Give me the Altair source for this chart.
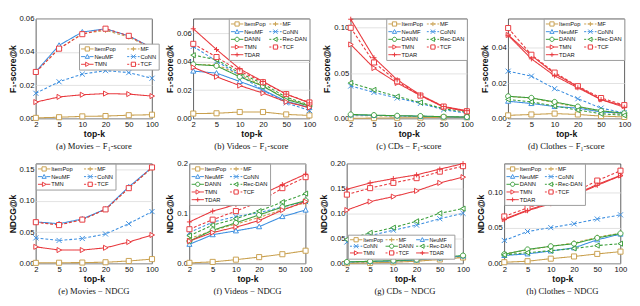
import math
import altair as alt
import pandas as pd

K = [2, 5, 10, 20, 50, 100]
MODELS = ["ItemPop", "MF", "NeuMF", "CoNN", "DANN", "Rec-DAN", "TMN", "TCF", "TDAR"]

COLORS = {
    "ItemPop": "#C9A04E", "MF": "#C9A04E",
    "NeuMF": "#3B8EE0", "CoNN": "#3B8EE0",
    "DANN": "#3A9E3A", "Rec-DAN": "#3A9E3A",
    "TMN": "#E8383D", "TCF": "#E8383D", "TDAR": "#E8383D",
}
DASHED = {"MF", "CoNN", "Rec-DAN", "TCF"}
MARKER = {"ItemPop": "square", "MF": "plus", "NeuMF": "tri_up", "CoNN": "x",
          "DANN": "circle", "Rec-DAN": "tri_left", "TMN": "tri_right",
          "TCF": "square", "TDAR": "plus"}

# ---------------- data ----------------
movies_f1 = {
    "ItemPop": [0.0004, 0.0008, 0.0013, 0.0015, 0.0020, 0.0023],
    "MF": [0.0280, 0.0420, 0.0510, 0.0530, 0.0490, 0.0420],
    "NeuMF": [0.0282, 0.0440, 0.0520, 0.0539, 0.0497, 0.0425],
    "CoNN": [0.0152, 0.0221, 0.0267, 0.0288, 0.0276, 0.0242],
    "TMN": [0.0099, 0.0130, 0.0143, 0.0150, 0.0147, 0.0135],
    "TCF": [0.0280, 0.0420, 0.0507, 0.0540, 0.0497, 0.0423],
}
videos_f1 = {
    "ItemPop": [0.0035, 0.0037, 0.0046, 0.0046, 0.0029, 0.0022],
    "MF": [0.0380, 0.0378, 0.0310, 0.0230, 0.0140, 0.0090],
    "NeuMF": [0.0334, 0.0320, 0.0261, 0.0201, 0.0122, 0.0077],
    "CoNN": [0.0508, 0.0404, 0.0305, 0.0199, 0.0110, 0.0057],
    "DANN": [0.0382, 0.0371, 0.0294, 0.0228, 0.0135, 0.0088],
    "Rec-DAN": [0.0446, 0.0415, 0.0320, 0.0245, 0.0150, 0.0095],
    "TMN": [0.0360, 0.0294, 0.0232, 0.0179, 0.0117, 0.0077],
    "TCF": [0.0526, 0.0433, 0.0334, 0.0256, 0.0172, 0.0113],
    "TDAR": [0.0632, 0.0486, 0.0349, 0.0261, 0.0172, 0.0110],
}
cds_f1 = {
    "ItemPop": [0.0003, 0.0005, 0.0008, 0.0010, 0.0012, 0.0013],
    "MF": [0.0030, 0.0030, 0.0025, 0.0022, 0.0018, 0.0015],
    "NeuMF": [0.0040, 0.0035, 0.0030, 0.0025, 0.0020, 0.0015],
    "CoNN": [0.0358, 0.0288, 0.0226, 0.0167, 0.0097, 0.0059],
    "DANN": [0.0045, 0.0038, 0.0031, 0.0028, 0.0020, 0.0017],
    "Rec-DAN": [0.0392, 0.0316, 0.0243, 0.0177, 0.0108, 0.0070],
    "TMN": [0.0816, 0.0556, 0.0392, 0.0253, 0.0125, 0.0080],
    "TCF": [0.1000, 0.0618, 0.0410, 0.0253, 0.0132, 0.0080],
    "TDAR": [0.1094, 0.0670, 0.0427, 0.0260, 0.0132, 0.0087],
}
clothes_f1 = {
    "ItemPop": [0.0018, 0.0023, 0.0028, 0.0023, 0.0014, 0.0009],
    "MF": [0.0125, 0.0115, 0.0090, 0.0065, 0.0040, 0.0022],
    "NeuMF": [0.0098, 0.0085, 0.0068, 0.0059, 0.0037, 0.0030],
    "CoNN": [0.0268, 0.0240, 0.0169, 0.0112, 0.0059, 0.0032],
    "DANN": [0.0126, 0.0117, 0.0094, 0.0068, 0.0044, 0.0030],
    "Rec-DAN": [0.0108, 0.0094, 0.0071, 0.0048, 0.0027, 0.0018],
    "TMN": [0.0473, 0.0357, 0.0254, 0.0180, 0.0108, 0.0071],
    "TCF": [0.0512, 0.0361, 0.0260, 0.0183, 0.0116, 0.0076],
    "TDAR": [0.0471, 0.0338, 0.0242, 0.0174, 0.0107, 0.0064],
}
movies_ndcg = {
    "ItemPop": [0.0010, 0.0012, 0.0015, 0.0020, 0.0040, 0.0070],
    "MF": [0.0660, 0.0620, 0.0700, 0.0860, 0.1200, 0.1520],
    "NeuMF": [0.0663, 0.0633, 0.0709, 0.0867, 0.1220, 0.1530],
    "CoNN": [0.0408, 0.0367, 0.0398, 0.0470, 0.0633, 0.0827],
    "TMN": [0.0265, 0.0214, 0.0214, 0.0250, 0.0342, 0.0454],
    "TCF": [0.0658, 0.0612, 0.0699, 0.0862, 0.1200, 0.1530],
}
videos_ndcg = {
    "ItemPop": [0.0013, 0.0032, 0.0077, 0.0128, 0.0186, 0.0256],
    "MF": [0.0500, 0.0660, 0.0790, 0.0920, 0.1080, 0.1220],
    "NeuMF": [0.0385, 0.0577, 0.0654, 0.0737, 0.0940, 0.1070],
    "CoNN": [0.0620, 0.0830, 0.0940, 0.1020, 0.1130, 0.1240],
    "DANN": [0.0449, 0.0667, 0.0814, 0.0974, 0.1130, 0.1260],
    "Rec-DAN": [0.0558, 0.0769, 0.0897, 0.1050, 0.1230, 0.1400],
    "TMN": [0.0449, 0.0620, 0.0730, 0.0859, 0.1070, 0.1240],
    "TCF": [0.0686, 0.0878, 0.1050, 0.1230, 0.1510, 0.1730],
    "TDAR": [0.0833, 0.1050, 0.1180, 0.1360, 0.1580, 0.1790],
}
cds_ndcg = {
    "ItemPop": [0.0005, 0.0012, 0.0025, 0.0045, 0.0080, 0.0120],
    "MF": [0.0010, 0.0020, 0.0040, 0.0060, 0.0100, 0.0130],
    "NeuMF": [0.0030, 0.0040, 0.0050, 0.0070, 0.0110, 0.0150],
    "CoNN": [0.0430, 0.0558, 0.0667, 0.0769, 0.0897, 0.1006],
    "DANN": [0.0032, 0.0045, 0.0058, 0.0077, 0.0122, 0.0160],
    "Rec-DAN": [0.0480, 0.0615, 0.0718, 0.0846, 0.1006, 0.1100],
    "TMN": [0.1070, 0.1240, 0.1340, 0.1455, 0.1615, 0.1730],
    "TCF": [0.1380, 0.1510, 0.1615, 0.1710, 0.1840, 0.1950],
    "TDAR": [0.1487, 0.1615, 0.1700, 0.1776, 0.1890, 0.2000],
}
clothes_ndcg = {
    "ItemPop": [0.0018, 0.0032, 0.0068, 0.0099, 0.0135, 0.0167],
    "MF": [0.0135, 0.0190, 0.0243, 0.0288, 0.0370, 0.0428],
    "NeuMF": [0.0113, 0.0135, 0.0176, 0.0220, 0.0333, 0.0414],
    "CoNN": [0.0324, 0.0450, 0.0505, 0.0559, 0.0626, 0.0685],
    "DANN": [0.0130, 0.0198, 0.0243, 0.0279, 0.0360, 0.0423],
    "Rec-DAN": [0.0122, 0.0153, 0.0180, 0.0212, 0.0252, 0.0279],
    "TMN": [0.0626, 0.0752, 0.0856, 0.0964, 0.1113, 0.1239],
    "TCF": [0.0662, 0.0784, 0.0887, 0.1000, 0.1167, 0.1306],
    "TDAR": [0.0617, 0.0743, 0.0842, 0.0955, 0.1100, 0.1234],
}

W, H = 121, 104
F1_TITLE = "F\u2081-score@k"
NDCG_TITLE = "NDCG@k"

PANELS = [
    dict(cap="(a) Movies \u2212 F\u2081-score", data=movies_f1, yt=F1_TITLE, ymax=0.06,
         ticks=[0, 0.02, 0.04, 0.06], fmt=".2f",
         leg=dict(orient="none", legendX=W - 76, legendY=26, columns=2, columnPadding=11)),
    dict(cap="(b) Videos \u2212 F\u2081-score", data=videos_f1, yt=F1_TITLE, ymax=0.0703,
         ticks=[0, 0.02, 0.04, 0.06], fmt=".2f", leg=dict(orient="top-right", offset=0, columns=2)),
    dict(cap="(c) CDs \u2212 F\u2081-score", data=cds_f1, yt=F1_TITLE, ymax=0.11,
         ticks=[0, 0.05, 0.10], fmt=".2f", leg=dict(orient="top-right", offset=0, columns=2)),
    dict(cap="(d) Clothes \u2212 F\u2081-score", data=clothes_f1, yt=F1_TITLE, ymax=0.0565,
         ticks=[0, 0.02, 0.04], fmt=".2f", leg=dict(orient="top-right", offset=0, columns=2)),
    dict(cap="(e) Movies \u2212 NDCG", data=movies_ndcg, yt=NDCG_TITLE, ymax=0.159,
         ticks=[0, 0.05, 0.10, 0.15], fmt=".2f",
         leg=dict(orient="top-left", offset=0, columns=2, columnPadding=11)),
    dict(cap="(f) Videos \u2212 NDCG", data=videos_ndcg, yt=NDCG_TITLE, ymax=0.2,
         ticks=[0, 0.1, 0.2], fmt=".1f", leg=dict(orient="top-left", offset=0, columns=2)),
    dict(cap="(g) CDs \u2212 NDCG", data=cds_ndcg, yt=NDCG_TITLE, ymax=0.2,
         ticks=[0, 0.05, 0.10, 0.15, 0.20], fmt=".2f",
         leg=dict(orient="none", legendX=1, legendY=74, columns=3, labelFontSize=5.5,
                  rowPadding=0, columnPadding=2, clipHeight=6)),
    dict(cap="(h) Clothes \u2212 NDCG", data=clothes_ndcg, yt=NDCG_TITLE, ymax=0.1405,
         ticks=[0, 0.05, 0.10], fmt=".2f", leg=dict(orient="top-left", offset=0, columns=2)),
]


# ---------------- marker / legend symbol paths (style only) ----------------
def f(v):
    return f"{round(v, 3):g}"


def marker(kind, cx, r):
    if kind == "square":
        return f"M{f(cx-r)},{f(-r)}L{f(cx+r)},{f(-r)}L{f(cx+r)},{f(r)}L{f(cx-r)},{f(r)}Z"
    if kind == "tri_up":
        return f"M{f(cx)},{f(-r)}L{f(cx+r)},{f(0.8*r)}L{f(cx-r)},{f(0.8*r)}Z"
    if kind == "tri_left":
        return f"M{f(cx-r)},0L{f(cx+0.8*r)},{f(-r)}L{f(cx+0.8*r)},{f(r)}Z"
    if kind == "tri_right":
        return f"M{f(cx+r)},0L{f(cx-0.8*r)},{f(-r)}L{f(cx-0.8*r)},{f(r)}Z"
    if kind == "circle":
        return (f"M{f(cx-r)},0A{f(r)},{f(r)} 0 1,0 {f(cx+r)},0"
                f"A{f(r)},{f(r)} 0 1,0 {f(cx-r)},0Z")
    if kind == "plus":
        return f"M{f(cx-r)},0L{f(cx+r)},0M{f(cx)},{f(-r)}L{f(cx)},{f(r)}"
    if kind == "x":
        return f"M{f(cx-r)},{f(-r)}L{f(cx+r)},{f(r)}M{f(cx-r)},{f(r)}L{f(cx+r)},{f(-r)}"


def legend_path(m):
    kind = MARKER[m]
    cx, r, x0, x1 = 0.53, 0.55, -1.1, 2.15
    closed = kind not in ("plus", "x")
    gaps = [(cx - r, cx + r)] if closed else []
    segs = []
    if m in DASHED:
        t = x0
        while t < x1 - 1e-6:
            segs.append((t, min(t + 0.55, x1)))
            t += 0.55 + 0.38
    else:
        segs.append((x0, x1))
    out = []
    for a, b in segs:
        pieces = [(a, b)]
        for ga, gb in gaps:
            newp = []
            for pa, pb in pieces:
                if pb <= ga or pa >= gb:
                    newp.append((pa, pb))
                else:
                    if pa < ga:
                        newp.append((pa, ga))
                    if pb > gb:
                        newp.append((gb, pb))
            pieces = newp
        for pa, pb in pieces:
            if pb - pa > 0.05:
                out.append(f"M{f(pa)},0L{f(pb)},0")
    return "".join(out) + marker(kind, cx, r)


def legend_order(models, cols):
    """Vega fills legend columns first; permute so entries read row by row."""
    n = len(models)
    rows = math.ceil(n / cols)
    order = []
    for c in range(cols):
        for r in range(rows):
            i = r * cols + c
            if i < n:
                order.append(models[i])
    return order


AXIS_FONT = "Liberation Sans"


def make_panel(p):
    data = p["data"]
    models = [m for m in MODELS if m in data]
    rows = [{"k": k, "model": m, "value": v} for m in models for k, v in zip(K, data[m])]
    df = pd.DataFrame(rows)
    colors = [COLORS[m] for m in models]

    x = alt.X("k:O", sort=K, scale=alt.Scale(type="point", padding=0),
              axis=alt.Axis(title="top-k", labelAngle=0))
    y = alt.Y("value:Q", scale=alt.Scale(domain=[0, p["ymax"]], nice=False, zero=True),
              axis=alt.Axis(title=p["yt"], values=p["ticks"], format=p["fmt"]))
    color = alt.Color("model:N", scale=alt.Scale(domain=models, range=colors), legend=None)

    base = alt.Chart(df)
    lines = base.mark_line(strokeWidth=1.1, opacity=1).encode(
        x=x, y=y, color=color,
        strokeDash=alt.StrokeDash("model:N", scale=alt.Scale(
            domain=models, range=[[3, 2] if m in DASHED else [1, 0] for m in models]), legend=None),
    )
    points = base.mark_point(filled=False, fill="white", size=28, strokeWidth=1, opacity=1).encode(
        x=x, y=y, color=color,
        shape=alt.Shape("model:N", scale=alt.Scale(
            domain=models, range=[marker(MARKER[m], 0, 1) for m in models]), legend=None),
    )

    lk = dict(title=None, labelFont=AXIS_FONT, labelFontSize=6, labelColor="#111",
              symbolSize=64, symbolStrokeWidth=1, labelOffset=5, rowPadding=1,
              columnPadding=3, padding=2, fillColor="white", strokeColor="#9a9a9a",
              labelLimit=200, clipHeight=7)
    lk.update(p["leg"])
    lorder = legend_order(models, lk["columns"])
    lcolors = [COLORS[m] for m in lorder]
    legend_layer = base.mark_point(filled=False, strokeWidth=1, opacity=1).transform_filter(
        "datum.value < -1"
    ).encode(
        shape=alt.Shape("model:N", scale=alt.Scale(
            domain=lorder, range=[legend_path(m) for m in lorder]), legend=alt.Legend(**lk)),
        stroke=alt.Stroke("model:N", scale=alt.Scale(domain=lorder, range=lcolors),
                          legend=alt.Legend(**lk)),
    )

    return alt.layer(lines, points, legend_layer).resolve_scale(
        shape="independent", stroke="independent"
    ).resolve_legend(
        shape="independent", stroke="independent"
    ).properties(
        width=W, height=H,
        title=alt.Title(p["cap"], orient="bottom", anchor="middle", offset=4,
                        font="Liberation Serif", fontSize=9, fontWeight="normal", color="#111"),
    )


panels = [make_panel(p) for p in PANELS]
RES = dict(color="independent", shape="independent", stroke="independent",
           strokeDash="independent")

row1 = alt.hconcat(*panels[:4], spacing=6).resolve_scale(**RES).resolve_legend(
    shape="independent", stroke="independent")
row2 = alt.hconcat(*panels[4:], spacing=6).resolve_scale(**RES).resolve_legend(
    shape="independent", stroke="independent")

chart = alt.vconcat(row1, row2, spacing=6).resolve_scale(**RES).resolve_legend(
    shape="independent", stroke="independent"
).properties(
    padding={"left": 0, "top": 0, "right": 0, "bottom": 0}
).configure_view(
    stroke="#333", strokeWidth=0.8
).configure_axis(
    labelFont=AXIS_FONT, labelFontSize=8, labelColor="#111", labelPadding=2,
    titleFont=AXIS_FONT, titleFontSize=9, titleFontWeight="bold", titleColor="#111",
    titlePadding=2, domain=False, ticks=False, grid=True, gridColor="#d9d9d9",
    gridWidth=0.8,
).configure_axisX(grid=False)

chart.save("out.html", embed_options={"renderer": "svg", "actions": False})
